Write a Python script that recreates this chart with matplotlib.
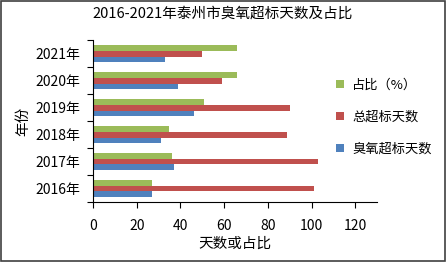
import matplotlib
matplotlib.use("Agg")
import matplotlib.pyplot as plt
import numpy as np
from matplotlib.patches import Rectangle

plt.rcParams['font.family'] = ['Noto Sans CJK SC', 'DejaVu Sans']

years = ['2016年', '2017年', '2018年', '2019年', '2020年', '2021年']
ozone_days = [27, 37, 31, 46, 39, 33]
total_days = [101, 103, 89, 90, 59, 50]
ratio = [27, 36, 35, 51, 66, 66]
series_names = ['臭氧超标天数', '总超标天数', '占比（%）']
colors = ['#4F81BD', '#C0504D', '#9BBB59']
xticks = [0, 20, 40, 60, 80, 100, 120]

fig = plt.figure(figsize=(4.46, 2.62), dpi=100)
ax = fig.add_axes([0.2085, 0.229, 0.8455 - 0.2085, 0.847 - 0.229])

y = np.arange(len(years))
h = 0.22
handles = []
for i, (vals, c, n) in enumerate(zip([ozone_days, total_days, ratio], colors, series_names)):
    b = ax.barh(y + (i - 1) * h, vals, height=h, color=c, label=n, edgecolor='none')
    handles.append(b)

ax.set_xlim(0, 130)
ax.set_ylim(-0.5, len(years) - 0.5)
ax.set_xticks(xticks)
ax.set_yticks(y)
ax.set_yticklabels(years)
ax.set_yticks(np.arange(-0.5, len(years), 1), minor=True)
ax.tick_params(axis='y', which='major', length=0, labelsize=10, pad=9)
ax.tick_params(axis='y', which='minor', length=4, direction='out', width=0.8)
ax.tick_params(axis='x', length=4, direction='out', width=0.8, labelsize=10, pad=8)
for s in ['top', 'right']:
    ax.spines[s].set_visible(False)
for s in ['left', 'bottom']:
    ax.spines[s].set_color('black')
    ax.spines[s].set_linewidth(0.8)

ax.set_xlabel('天数或占比', fontsize=10.5, labelpad=3)
ax.set_ylabel('年份', fontsize=10.5, labelpad=4)
fig.suptitle('2016-2021年泰州市臭氧超标天数及占比', fontsize=10.5, y=0.975)

leg = fig.legend(handles[::-1], series_names[::-1], loc='upper left',
                 bbox_to_anchor=(0.727, 0.745), frameon=False, fontsize=9.5,
                 handlelength=0.6, handleheight=0.6, handletextpad=0.6,
                 labelspacing=1.45)

fig.patches.append(Rectangle((0.002, 0.003), 0.995, 0.993, transform=fig.transFigure,
                             fill=False, edgecolor='#404040', linewidth=1.2))

fig.savefig('out.png', dpi=100)
